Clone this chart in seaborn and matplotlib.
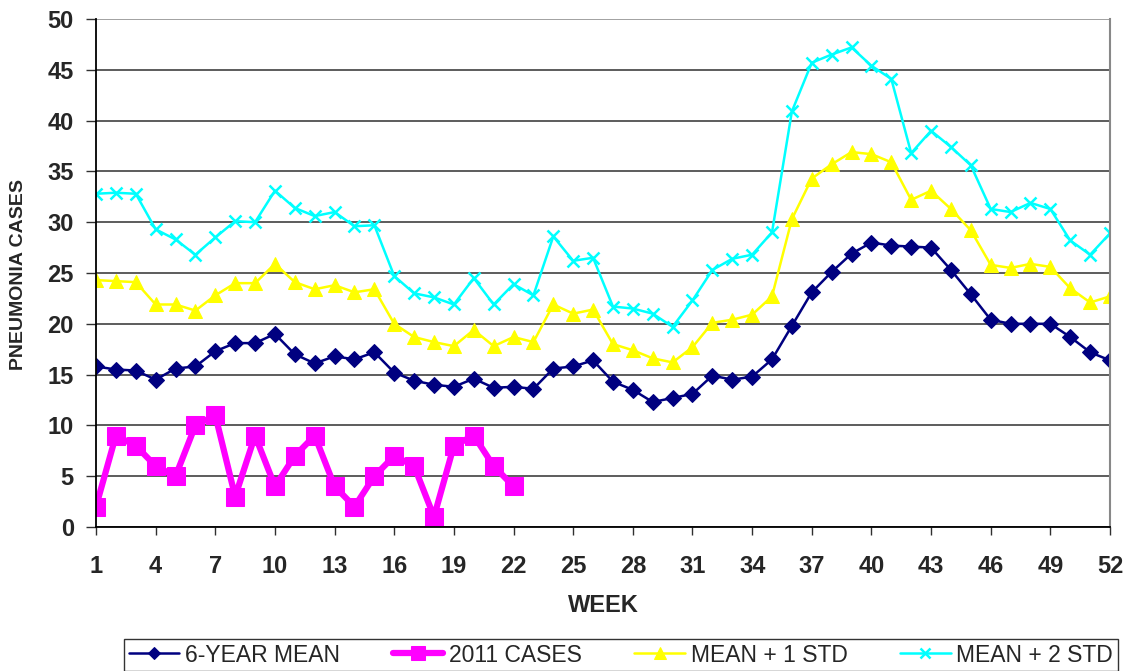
import matplotlib
matplotlib.use("Agg")
import matplotlib.pyplot as plt
import seaborn as sns
import pandas as pd
import numpy as np

weeks = list(range(1, 53))
mean6 = [15.8, 15.5, 15.4, 14.5, 15.6, 15.8, 17.3, 18.1, 18.1, 19.0,
         17.0, 16.1, 16.8, 16.5, 17.2, 15.2, 14.4, 14.0, 13.8, 14.6,
         13.7, 13.8, 13.6, 15.6, 15.8, 16.4, 14.3, 13.5, 12.3, 12.7,
         13.1, 14.9, 14.5, 14.8, 16.5, 19.8, 23.1, 25.1, 26.9, 28.0,
         27.7, 27.6, 27.5, 25.3, 22.9, 20.4, 20.0, 20.0, 20.0, 18.7,
         17.2, 16.4]
cases2011_weeks = list(range(1, 23))
cases2011 = [2, 9, 8, 6, 5, 10, 11, 3, 9, 4, 7, 9, 4, 2, 5, 7, 6, 1, 8, 9, 6, 4]
mean_1std = [24.3, 24.2, 24.1, 21.9, 21.9, 21.3, 22.8, 24.0, 24.0, 25.9,
             24.1, 23.4, 23.8, 23.1, 23.4, 20.0, 18.7, 18.2, 17.8, 19.4,
             17.8, 18.7, 18.2, 21.9, 21.0, 21.4, 18.0, 17.4, 16.6, 16.2,
             17.7, 20.1, 20.4, 20.9, 22.7, 30.3, 34.3, 35.7, 36.9, 36.7,
             35.9, 32.2, 33.1, 31.3, 29.2, 25.8, 25.5, 25.9, 25.6, 23.5,
             22.1, 22.7]
mean_2std = [32.8, 32.9, 32.8, 29.3, 28.3, 26.8, 28.5, 30.1, 30.0, 33.1,
             31.4, 30.6, 31.0, 29.6, 29.7, 24.7, 23.0, 22.6, 21.9, 24.5,
             21.9, 23.9, 22.8, 28.6, 26.2, 26.5, 21.7, 21.5, 21.0, 19.7,
             22.3, 25.3, 26.4, 26.8, 29.0, 40.9, 45.7, 46.5, 47.2, 45.4,
             44.1, 36.8, 39.0, 37.4, 35.6, 31.3, 31.0, 31.9, 31.3, 28.2,
             26.8, 28.9]
labels = ["6-YEAR MEAN", "2011 CASES", "MEAN + 1 STD", "MEAN + 2 STD"]
xticks = list(range(1, 53, 3))
yticks = list(range(0, 51, 5))

sns.set_theme(style="white")
plt.rcParams['font.family'] = ['Liberation Sans', 'DejaVu Sans']

fig = plt.figure(figsize=(11.3, 6.71), dpi=100)
ax = fig.add_axes([96/1130, 1 - 527/671, (1110 - 96)/1130, (527 - 19)/671])

df_mean = pd.DataFrame({"week": weeks, "v": mean6})
df_c = pd.DataFrame({"week": cases2011_weeks, "v": cases2011})
df_1 = pd.DataFrame({"week": weeks, "v": mean_1std})
df_2 = pd.DataFrame({"week": weeks, "v": mean_2std})

for y in yticks:
    ax.axhline(y, color="#888888" if y == 50 else "#303030", lw=1.1, zorder=0)

sns.lineplot(data=df_mean, x="week", y="v", ax=ax, color="#000080", lw=1.8,
             marker="D", markersize=8, markeredgecolor="#000080", label=labels[0])
sns.lineplot(data=df_c, x="week", y="v", ax=ax, color="#FF00FF", lw=4.5,
             marker="s", markersize=13, markeredgecolor="#FF00FF", label=labels[1])
sns.lineplot(data=df_1, x="week", y="v", ax=ax, color="#FFFF00", lw=1.8,
             marker="^", markersize=10, markeredgecolor="#FFFF00", label=labels[2])
sns.lineplot(data=df_2, x="week", y="v", ax=ax, color="#00FFFF", lw=1.8,
             marker="x", markersize=9, markeredgewidth=1.8, markeredgecolor="#00FFFF",
             label=labels[3])

ax.set_xlim(1, 52)
ax.set_ylim(0, 50)
ax.set_xticks(xticks)
ax.set_yticks(yticks)
ax.set_xticklabels([str(t) for t in xticks], fontsize=17, fontweight="bold")
ax.set_yticklabels([str(t) for t in yticks], fontsize=17, fontweight="bold")
ax.tick_params(axis="y", direction="out", length=7, width=1, color="#303030", pad=9, left=True)
ax.tick_params(axis="x", direction="out", length=6, width=1, color="#303030", pad=14, bottom=True)

for s in ["left", "bottom"]:
    ax.spines[s].set_color("black")
    ax.spines[s].set_linewidth(1.3)
ax.spines["right"].set_color("#888888")
ax.spines["right"].set_linewidth(1.5)
ax.spines["top"].set_visible(False)

ax.set_xlabel("WEEK", fontsize=17, fontweight="bold")
ax.set_ylabel("PNEUMONIA CASES", fontsize=14, fontweight="bold")
ax.xaxis.set_label_coords(0.5, -(594 - 527) / 508)
ax.yaxis.set_label_coords(-(96 - 27) / 1014, (527 - 275) / 508)

ax.get_legend().remove()
handles, lbls = ax.get_legend_handles_labels()
leg = fig.legend(handles, lbls, loc="center", bbox_to_anchor=(621/1130, 1 - 655/671),
                 ncol=4, frameon=True, fancybox=False, edgecolor="black",
                 fontsize=16.5, handlelength=2.2, handletextpad=0.25, columnspacing=2.3,
                 borderpad=0.2, markerscale=0.8)
leg.get_frame().set_linewidth(1.0)

fig.savefig("out.png", dpi=100)
